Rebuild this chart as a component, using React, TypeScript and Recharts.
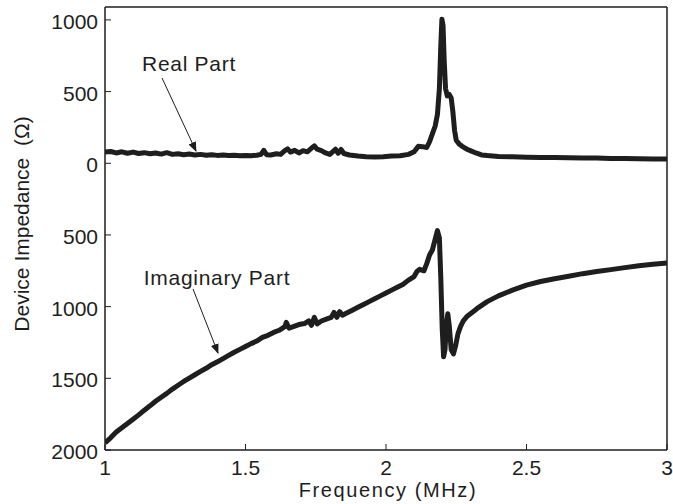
import React from 'react';
import { LineChart, Line, XAxis, YAxis } from 'recharts';

// real part (ohm)
const realFreq = [1.0, 1.02, 1.04, 1.06, 1.08, 1.1, 1.12, 1.14, 1.16, 1.18, 1.2, 1.22, 1.24, 1.26, 1.28, 1.3, 1.32, 1.34, 1.36, 1.38, 1.4, 1.42, 1.44, 1.46, 1.48, 1.5, 1.52, 1.54, 1.555, 1.565, 1.575, 1.59, 1.61, 1.625, 1.64, 1.65, 1.66, 1.675, 1.69, 1.705, 1.72, 1.735, 1.745, 1.755, 1.77, 1.785, 1.8, 1.81, 1.82, 1.83, 1.84, 1.85, 1.87, 1.9, 1.93, 1.96, 1.99, 2.02, 2.05, 2.08, 2.1, 2.115, 2.13, 2.145, 2.155, 2.165, 2.175, 2.183, 2.19, 2.195, 2.199, 2.203, 2.207, 2.212, 2.218, 2.225, 2.232, 2.238, 2.244, 2.25, 2.26, 2.27, 2.28, 2.29, 2.3, 2.32, 2.34, 2.36, 2.4, 2.45, 2.5, 2.55, 2.6, 2.65, 2.7, 2.75, 2.8, 2.85, 2.9, 2.95, 3.0];
const realOhm = [78, 82, 72, 80, 70, 78, 68, 74, 66, 72, 64, 74, 62, 66, 60, 64, 58, 62, 56, 60, 55, 58, 54, 56, 52, 55, 52, 56, 62, 90, 60, 58, 66, 62, 88, 100, 78, 90, 72, 88, 80, 105, 122, 98, 88, 72, 62, 80, 98, 70, 96, 68, 58, 50, 46, 44, 46, 50, 52, 62, 80, 118, 116, 110, 150, 205, 260, 340, 520, 820, 1005, 960, 720, 520, 470, 480, 455, 360, 230, 160, 135, 120, 108, 96, 88, 72, 58, 54, 48, 45, 42, 40, 40, 38, 36, 36, 34, 34, 32, 30, 30];

// imaginary part (ohm, plotted downward)
const imagFreq = [1.0, 1.02, 1.04, 1.06, 1.08, 1.1, 1.12, 1.14, 1.16, 1.18, 1.2, 1.22, 1.24, 1.26, 1.28, 1.3, 1.32, 1.34, 1.36, 1.38, 1.4, 1.42, 1.44, 1.46, 1.48, 1.5, 1.52, 1.54, 1.56, 1.58, 1.6, 1.62, 1.64, 1.645, 1.655, 1.67, 1.69, 1.71, 1.725, 1.735, 1.745, 1.755, 1.77, 1.79, 1.805, 1.815, 1.825, 1.835, 1.845, 1.86, 1.88, 1.9, 1.92, 1.94, 1.96, 1.98, 2.0, 2.02, 2.04, 2.06, 2.08, 2.1, 2.11, 2.12, 2.135, 2.145, 2.155, 2.165, 2.175, 2.183, 2.19, 2.195, 2.2, 2.205, 2.21, 2.215, 2.22, 2.225, 2.232, 2.24, 2.248, 2.256, 2.265, 2.275, 2.29, 2.31, 2.33, 2.36, 2.4, 2.45, 2.5, 2.55, 2.6, 2.65, 2.7, 2.75, 2.8, 2.85, 2.9, 2.95, 3.0];
const imagOhm = [-1950, -1915, -1875, -1845, -1815, -1785, -1755, -1722, -1692, -1660, -1632, -1605, -1575, -1548, -1522, -1498, -1475, -1452, -1430, -1405, -1385, -1362, -1340, -1318, -1298, -1278, -1258, -1240, -1215, -1200, -1180, -1165, -1140, -1110, -1150, -1140, -1125, -1118, -1100, -1130, -1075, -1120, -1100, -1085, -1075, -1040, -1075, -1035, -1060, -1045, -1025, -1005, -985, -965, -945, -925, -905, -885, -865, -845, -815, -790, -755, -740, -750, -700, -640, -605, -530, -470, -520, -800, -1150, -1350, -1300, -1120, -1050, -1130, -1300, -1330, -1270, -1190, -1140, -1100, -1065, -1035, -1005, -965, -925, -885, -850, -825, -805, -788, -770, -755, -742, -728, -715, -705, -695];

const xTicks = [1, 1.5, 2, 2.5, 3];
const yTicks = [1000, 500, 0, -500, -1000, -1500, -2000];

const realData = realFreq.map((f, i) => ({ f, v: realOhm[i] }));
const imagData = imagFreq.map((f, i) => ({ f, v: imagOhm[i] }));

const INK = '#1e1e1e';
const FONT = 'Liberation Sans, Arial, Helvetica, sans-serif';

const BottomTick = (p: any) => (
  <g>
    <line x1={p.x} x2={p.x} y1={p.y} y2={p.y - 6} stroke={INK} strokeWidth={1} />
    <text x={p.x} y={p.y + 25} textAnchor="middle" fontSize={21} fontFamily={FONT} fill={INK}>
      {p.payload.value}
    </text>
  </g>
);
const TopTick = (p: any) => (
  <line x1={p.x} x2={p.x} y1={p.y} y2={p.y + 6} stroke={INK} strokeWidth={1} />
);
const LeftTick = (p: any) => (
  <g>
    <line x1={p.x} x2={p.x + 6} y1={p.y} y2={p.y} stroke={INK} strokeWidth={1} />
    <text x={p.x - 7} y={p.y + 9} textAnchor="end" fontSize={21} fontFamily={FONT} fill={INK}>
      {Math.abs(p.payload.value)}
    </text>
  </g>
);
const RightTick = (p: any) => (
  <line x1={p.x} x2={p.x - 6} y1={p.y} y2={p.y} stroke={INK} strokeWidth={1} />
);

export default function App() {
  return (
    <div style={{ position: 'absolute', left: 0, top: 0, width: 673, height: 504, background: '#fff' }}>
      <LineChart width={673} height={504} margin={{ top: 0, right: 0, bottom: 0, left: 0 }}>
        <XAxis dataKey="f" type="number" domain={[1, 3]} ticks={xTicks} allowDataOverflow
          height={54} tickSize={0} tickMargin={0} tickLine={false} tick={<BottomTick />}
          axisLine={{ stroke: INK, strokeWidth: 1.5 }} />
        <XAxis xAxisId="top" orientation="top" dataKey="f" type="number" domain={[1, 3]} ticks={xTicks}
          height={7} tickSize={0} tickMargin={0} tickLine={false} tick={<TopTick />}
          axisLine={{ stroke: INK, strokeWidth: 1.5 }} />
        <YAxis dataKey="v" type="number" domain={[-2000, 1090]} ticks={yTicks} allowDataOverflow
          width={105} tickSize={0} tickMargin={0} tickLine={false} tick={<LeftTick />}
          axisLine={{ stroke: INK, strokeWidth: 1.5 }} />
        <YAxis yAxisId="right" orientation="right" dataKey="v" type="number" domain={[-2000, 1090]} ticks={yTicks}
          width={6} tickSize={0} tickMargin={0} tickLine={false} tick={<RightTick />}
          axisLine={{ stroke: INK, strokeWidth: 1.5 }} />
        <Line data={realData} dataKey="v" type="linear" stroke={INK} strokeWidth={5}
          dot={false} isAnimationActive={false} strokeLinejoin="round" />
        <Line data={imagData} dataKey="v" type="linear" stroke={INK} strokeWidth={5}
          dot={false} isAnimationActive={false} strokeLinejoin="round" />
      </LineChart>
      <svg width={673} height={504} style={{ position: 'absolute', left: 0, top: 0, pointerEvents: 'none' }}>
        <defs>
          <marker id="ah" markerWidth="10" markerHeight="8" refX="9" refY="4" orient="auto" markerUnits="userSpaceOnUse">
            <path d="M0,0 L10,4 L0,8 z" fill={INK} />
          </marker>
        </defs>
        <text x={189} y={71} textAnchor="middle" fontSize={21} letterSpacing={0.7} fontFamily={FONT} fill={INK}>Real Part</text>
        <line x1={162} y1={78} x2={196} y2={151} stroke={INK} strokeWidth={1} markerEnd="url(#ah)" />
        <text x={217} y={285} textAnchor="middle" fontSize={21} letterSpacing={0.7} fontFamily={FONT} fill={INK}>Imaginary Part</text>
        <line x1={193} y1={289} x2={218} y2={353} stroke={INK} strokeWidth={1} markerEnd="url(#ah)" />
        <text x={388} y={497} textAnchor="middle" fontSize={20} letterSpacing={1.6} fontFamily={FONT} fill={INK}>Frequency (MHz)</text>
        <text x={0} y={0} transform="translate(29,224) rotate(-90)" textAnchor="middle" fontSize={21}
          fontFamily={FONT} fill={INK} style={{ whiteSpace: 'pre' }}>Device Impedance  (Ω)</text>
      </svg>
    </div>
  );
}
